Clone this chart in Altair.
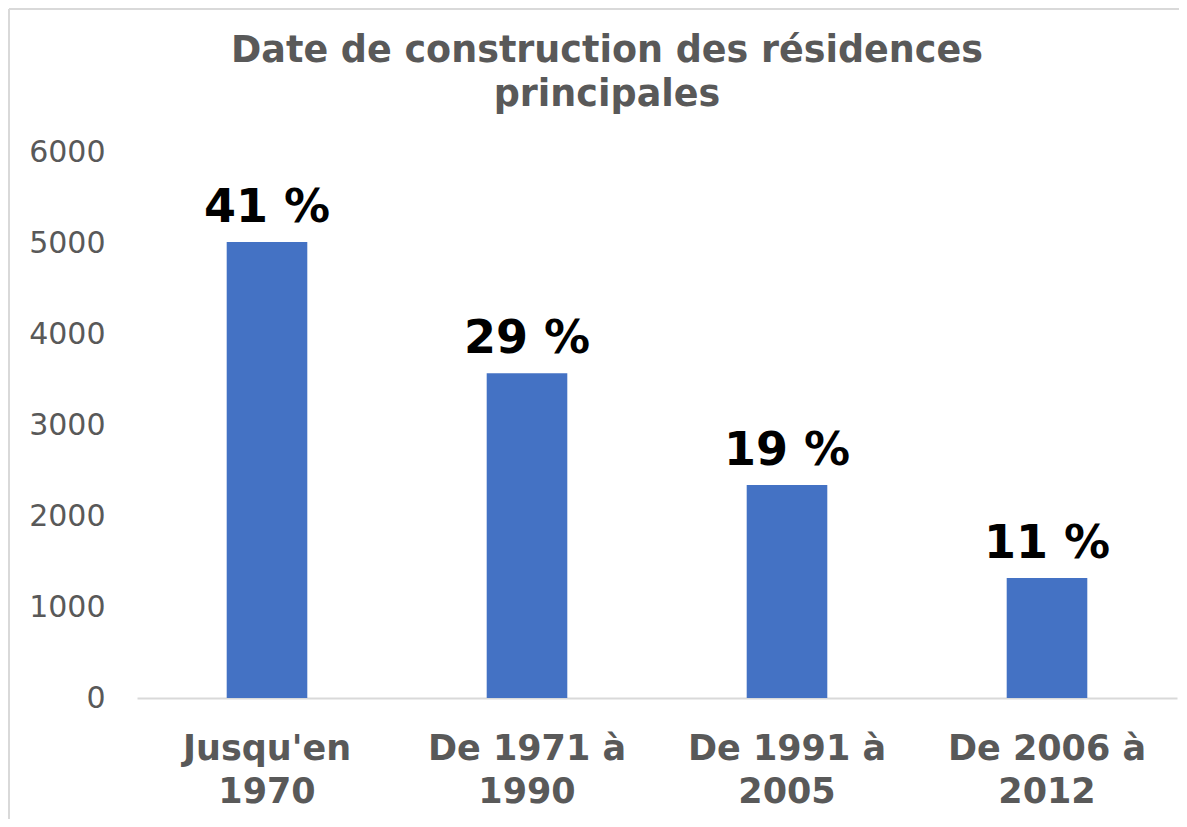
import altair as alt
import pandas as pd

categories = ["Jusqu'en\n1970", "De 1971 à\n1990", "De 1991 à\n2005", "De 2006 à\n2012"]
values = [5010, 3570, 2340, 1320]
percents = [41, 29, 19, 11]
title_lines = ["Date de construction des résidences", "principales"]

df = pd.DataFrame({"cat": categories, "val": values, "pct": percents})
one = pd.DataFrame({"k": [0]})

W, H = 1040, 546
PAD = {"left": 129, "top": 144, "right": 2, "bottom": 121}
FONT = "DejaVu Sans"
GRAY = "#595959"

x = alt.X("cat:N", sort=categories, title=None,
          scale=alt.Scale(paddingInner=0.69, paddingOuter=0.345),
          axis=alt.Axis(labelExpr="split(datum.label, '\\n')", labelAngle=0,
                        labelFont=FONT, labelFontSize=35, labelFontWeight="bold",
                        labelColor=GRAY, labelLineHeight=43, labelPadding=33,
                        labelLimit=600,
                        ticks=False, domainColor="#D9D9D9", domainWidth=2))
y = alt.Y("val:Q", title=None,
          scale=alt.Scale(domain=[0, 6000]),
          axis=alt.Axis(values=[0, 1000, 2000, 3000, 4000, 5000, 6000], format="d",
                        labelFont=FONT, labelFontSize=30, labelColor=GRAY,
                        labelPadding=32, ticks=False, domain=False, grid=False))

base = alt.Chart(df)
bars = base.mark_bar(color="#4472C4").encode(x=x, y=y)
labels = base.transform_calculate(lbl="datum.pct + ' %'").mark_text(
    font=FONT, fontSize=46, fontWeight="bold", color="black",
    baseline="alphabetic", dy=-20
).encode(x=alt.X("cat:N", sort=categories), y="val:Q", text="lbl:N")

title = alt.Chart(one).mark_text(
    text=title_lines, font=FONT, fontSize=36.5, fontWeight="bold", color=GRAY,
    align="center", baseline="alphabetic", lineHeight=44
).encode(x=alt.value(470), y=alt.value(-90))

frame_top = alt.Chart(one).mark_rule(color="#D9D9D9", strokeWidth=2).encode(
    x=alt.value(-128), x2=alt.value(W + 2), y=alt.value(-143))
frame_left = alt.Chart(one).mark_rule(color="#D9D9D9", strokeWidth=2).encode(
    x=alt.value(-128), y=alt.value(-143), y2=alt.value(H + 121))

chart = alt.layer(frame_top, frame_left, bars, labels, title).properties(
    width=W, height=H,
    padding=PAD,
    autosize=alt.AutoSizeParams(type="none"),
).configure(background="white").configure_view(stroke=None)

chart.save("out.html", embed_options={"renderer": "svg", "actions": False})
